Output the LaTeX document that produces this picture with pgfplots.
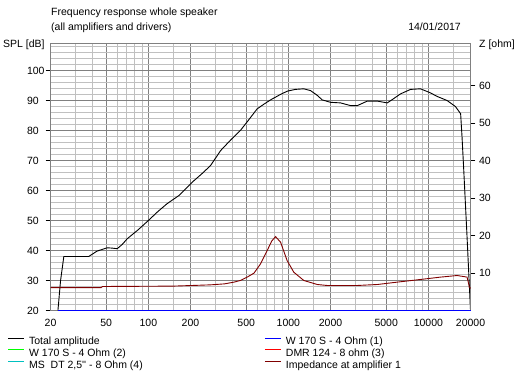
\documentclass[border=0pt]{standalone}
\usepackage{fontspec}
\setmainfont{Liberation Sans}
\usepackage{pgfplots}
\pgfplotsset{compat=1.18}
\definecolor{majgrid}{RGB}{128,128,128}
\definecolor{mingrid}{RGB}{192,192,192}
\definecolor{impred}{RGB}{128,0,0}
\definecolor{msdt}{RGB}{0,192,192}
\newcommand{\fs}{\fontsize{10.5}{12}\selectfont}
\begin{document}
\begin{tikzpicture}[x=1pt,y=1pt]
\path[use as bounding box, fill=white] (0,0) rectangle (514,374);
\node[anchor=base west, inner sep=0pt, font=\fs] at (51,358.7) {Frequency response whole speaker};
\node[anchor=base west, inner sep=0pt, font=\fs] at (51,343) {(all amplifiers and drivers)};
\node[anchor=base east, inner sep=0pt, font=\fs] at (461,343) {14/01/2017};
\node[anchor=base west, inner sep=0pt, font=\fs] at (3,326.5) {SPL [dB]};
\node[anchor=base west, inner sep=0pt, font=\fs] at (479,326.5) {Z [ohm]};
\begin{axis}[
  at={(50.5pt,63.5pt)}, anchor=south west,
  scale only axis, width=420pt, height=267.2pt,
  xmode=log, xmin=20, xmax=20000, ymin=20, ymax=109.07,
  xtick={20,50,100,200,500,1000,2000,5000,10000,20000},
  xticklabels={20,50,100,200,500,1000,2000,5000,10000,20000},
  minor xtick={30,40,60,70,80,90,150,300,400,600,700,800,900,1500,3000,4000,6000,7000,8000,9000,15000},
  ytick={20,30,...,100},
  minor ytick={22,24,...,108},
  grid=both,
  major grid style={majgrid, line width=0.8pt},
  minor grid style={mingrid, line width=0.8pt},
  axis line style={majgrid, line width=0.8pt},
  tick align=outside,
  major tick length=5pt, minor tick length=0pt,
  ytick style={black, line width=0.8pt},
  xtick style={draw=none},
  ytick pos=left, xtick pos=bottom,
  tick label style={font=\fs},
  /pgf/number format/assume math mode=true,
  yticklabel style={anchor=west, xshift=-22pt},
  xticklabel style={yshift=0pt},
  clip=false,
  legend columns=2,
  legend cell align=left,
  legend image code/.code={\draw[#1, line width=1.1pt] (0pt,3.5pt) -- (16pt,3.5pt);},
  legend style={at={(-0.1028,-0.092)}, anchor=north west, draw=none, fill=none,
    inner sep=0pt, font=\fs, row sep=-1.5pt,
    /tikz/every odd column/.append style={column sep=2.5pt},
    /tikz/every even column/.append style={column sep=119.5pt}},
]
\addplot[black, line width=0.9pt] coordinates {
(22.6,20) (23.6,30) (24.9,38) (30,38) (37.5,38) (43,39.8) (50.8,40.9) (55,40.8)
(59.9,40.6) (65,42) (70.6,43.9) (85,47) (100,50) (117,53) (136,55.6) (165,58.3)
(206,62.8) (240,65.5) (278,68.3) (328,73.3) (390,77) (454,80) (520,83.5) (598,87.2)
(670,88.8) (746,90.2) (860,91.8) (980,93.1) (1120,93.7) (1290,93.9) (1440,93.3)
(1600,91.8) (1746,90.2) (2000,89.4) (2360,89.2) (2780,88.3) (3110,88.3) (3660,89.8)
(4320,89.8) (5090,89.2) (5600,90.5) (6320,92.2) (7460,93.7) (8770,93.9) (10300,92.6)
(11500,91.4) (13600,90) (15600,88) (17000,85.6) (17400,77.8) (17900,66.7) (18900,44.4)
(20000,20)};
\addlegendentry{Total amplitude}
\addplot[blue, line width=0.9pt] coordinates {(22.6,20) (20000,20)};
\addlegendentry{W 170 S - 4 Ohm (1)}
\addlegendimage{green}
\addlegendentry{W 170 S - 4 Ohm (2)}
\addlegendimage{red}
\addlegendentry{DMR 124 - 8 ohm (3)}
\addlegendimage{msdt}
\addlegendentry{MS\ \ DT 2,5\textquotesingle\textquotesingle{} - 8 Ohm (4)}
\addlegendimage{impred}
\addlegendentry{Impedance at amplifier 1}
\end{axis}
\begin{axis}[
  at={(50.5pt,63.5pt)}, anchor=south west,
  scale only axis, width=420pt, height=267.2pt,
  xmode=log, xmin=20, xmax=20000, ymin=0, ymax=71.25,
  axis x line=none,
  axis y line*=right,
  axis line style={majgrid, line width=0.8pt},
  ytick={10,20,...,60},
  tick align=outside,
  major tick length=5pt,
  ytick style={black, line width=0.8pt},
  tick label style={font=\fs},
  /pgf/number format/assume math mode=true,
  yticklabel style={anchor=west},
  clip=false,
]
\addplot[impred, line width=0.9pt] coordinates {
(20,6.1) (46,6.1) (47,6.4) (150,6.5) (206,6.67) (278,6.84) (350,7.1) (408,7.56)
(454,8) (508,8.9) (568,9.96) (632,12.4) (706,16) (760,18.5) (810,19.7) (880,18.2)
(980,13.3) (1094,10.2) (1290,8) (1610,6.93) (1890,6.67) (3110,6.67) (4320,6.93)
(5980,7.56) (8770,8.27) (12200,8.9) (16060,9.33) (18900,8.9) (19650,6.2) (20000,5.9)};
\end{axis}
\end{tikzpicture}
\end{document}
